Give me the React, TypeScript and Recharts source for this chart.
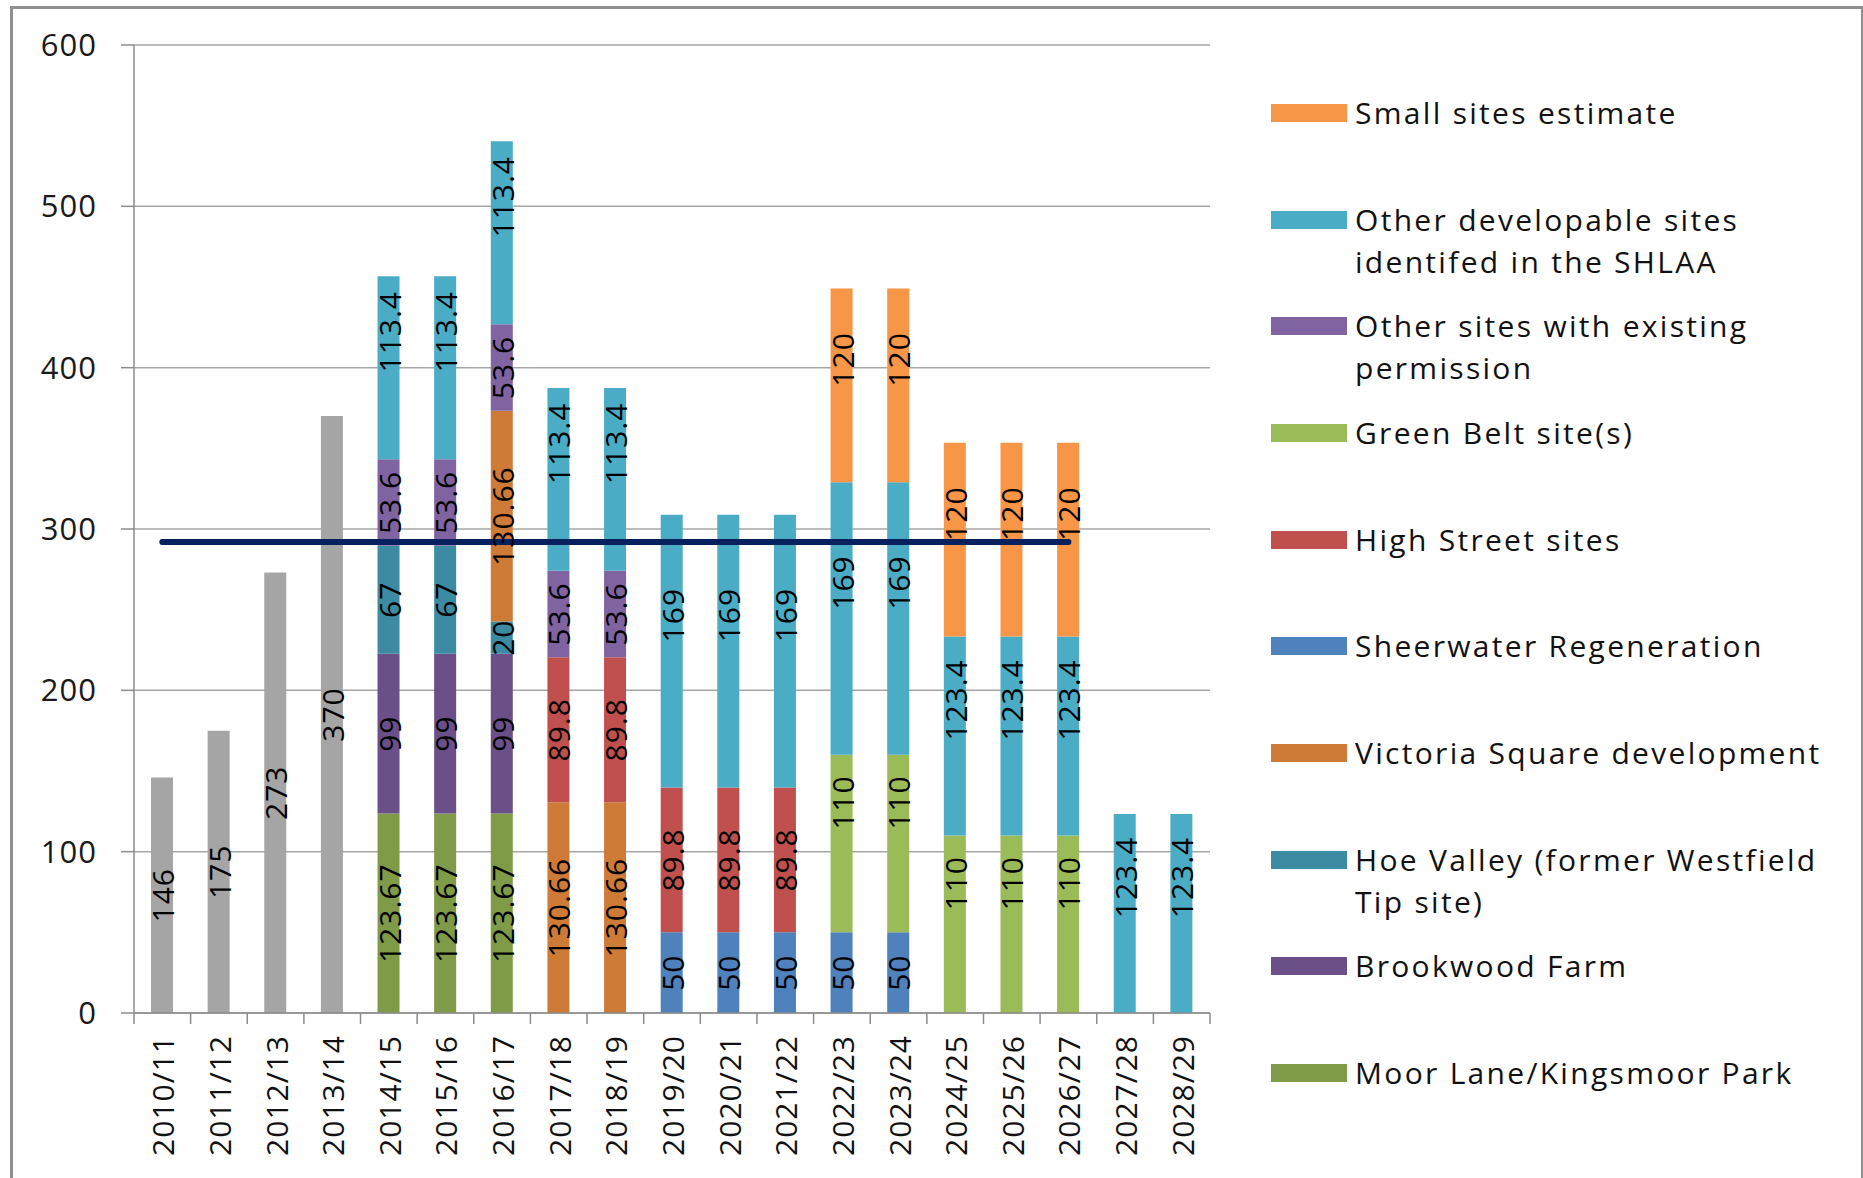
import React from "react";
import { ComposedChart, Bar, Line, XAxis, YAxis, CartesianGrid, Legend, LabelList } from "recharts";

const years = [
  "2010/11", "2011/12", "2012/13", "2013/14", "2014/15", "2015/16", "2016/17",
  "2017/18", "2018/19", "2019/20", "2020/21", "2021/22", "2022/23", "2023/24",
  "2024/25", "2025/26", "2026/27", "2027/28", "2028/29",
];

const completions = [146, 175, 273, 370, null, null, null, null, null, null, null, null, null, null, null, null, null, null, null];
const moorLane = [null, null, null, null, 123.67, 123.67, 123.67, null, null, null, null, null, null, null, null, null, null, null, null];
const brookwood = [null, null, null, null, 99, 99, 99, null, null, null, null, null, null, null, null, null, null, null, null];
const hoeValley = [null, null, null, null, 67, 67, 20, null, null, null, null, null, null, null, null, null, null, null, null];
const victoria = [null, null, null, null, null, null, 130.66, 130.66, 130.66, null, null, null, null, null, null, null, null, null, null];
const sheerwater = [null, null, null, null, null, null, null, null, null, 50, 50, 50, 50, 50, null, null, null, null, null];
const highStreet = [null, null, null, null, null, null, null, 89.8, 89.8, 89.8, 89.8, 89.8, null, null, null, null, null, null, null];
const greenBelt = [null, null, null, null, null, null, null, null, null, null, null, null, 110, 110, 110, 110, 110, null, null];
const otherPermission = [null, null, null, null, 53.6, 53.6, 53.6, 53.6, 53.6, null, null, null, null, null, null, null, null, null, null];
const otherDevelopable = [null, null, null, null, 113.4, 113.4, 113.4, 113.4, 113.4, 169, 169, 169, 169, 169, 123.4, 123.4, 123.4, 123.4, 123.4];
const smallSites = [null, null, null, null, null, null, null, null, null, null, null, null, 120, 120, 120, 120, 120, null, null];
const requirement = [292, 292, 292, 292, 292, 292, 292, 292, 292, 292, 292, 292, 292, 292, 292, 292, 292, null, null];

const yTicks = [0, 100, 200, 300, 400, 500, 600];

const data = years.map((year, i) => ({
  year,
  completions: completions[i],
  moorLane: moorLane[i],
  brookwood: brookwood[i],
  hoeValley: hoeValley[i],
  victoria: victoria[i],
  sheerwater: sheerwater[i],
  highStreet: highStreet[i],
  greenBelt: greenBelt[i],
  otherPermission: otherPermission[i],
  otherDevelopable: otherDevelopable[i],
  smallSites: smallSites[i],
  requirement: requirement[i],
}));

// stack order, bottom to top
const series = [
  { key: "completions", name: "", color: "#A5A5A5", nudge: 0, legend: false },
  { key: "moorLane", name: "Moor Lane/Kingsmoor Park", color: "#7F9B48", nudge: 0, legend: true },
  { key: "brookwood", name: "Brookwood Farm", color: "#6A4F88", nudge: 0, legend: true },
  { key: "hoeValley", name: "Hoe Valley (former Westfield Tip site)", color: "#3C8BA2", nudge: 0, legend: true },
  { key: "victoria", name: "Victoria Square development", color: "#CE7B38", nudge: 0, legend: true },
  { key: "sheerwater", name: "Sheerwater Regeneration", color: "#4F81BD", nudge: 0, legend: true },
  { key: "highStreet", name: "High Street sites", color: "#C0504D", nudge: 0, legend: true },
  { key: "greenBelt", name: "Green Belt site(s)", color: "#9BBB59", nudge: 41, legend: true },
  { key: "otherPermission", name: "Other sites with existing permission", color: "#8064A2", nudge: 0, legend: true },
  { key: "otherDevelopable", name: "Other developable sites identifed in the SHLAA", color: "#4BACC6", nudge: 36, legend: true },
  { key: "smallSites", name: "Small sites estimate", color: "#F79646", nudge: 26, legend: true },
];

const W = 1863;
const H = 1178;
const FONT = "'Open Sans', sans-serif";
const AXIS = "#8C8C8C";
const PLOT_LEFT = 134;
const PLOT_RIGHT = 1210;
const PLOT_TOP = 45;
const XAXIS_H = 165;
const PLOT_BOTTOM = H - XAXIS_H;
const BAND = (PLOT_RIGHT - PLOT_LEFT) / years.length;
const LEGEND_W = 560;

const XTick = (props: any) => {
  const { x, payload, index } = props;
  const ty = PLOT_BOTTOM + 22;
  return (
    <g>
      <line x1={x - BAND / 2} x2={x - BAND / 2} y1={PLOT_BOTTOM} y2={PLOT_BOTTOM + 11} stroke={AXIS} strokeWidth={1.5} />
      {index === years.length - 1 && (
        <line x1={x + BAND / 2} x2={x + BAND / 2} y1={PLOT_BOTTOM} y2={PLOT_BOTTOM + 11} stroke={AXIS} strokeWidth={1.5} />
      )}
      <text
        x={x}
        y={ty}
        dy="0.4em"
        transform={`rotate(-90 ${x} ${ty})`}
        textAnchor="end"
        fontSize={30}
        letterSpacing={1}
        fontFamily={FONT}
        fill="#111"
      >
        {payload.value}
      </text>
    </g>
  );
};

const makeLabel = (nudge: number) => (props: any) => {
  const { x, y, width, height, value } = props;
  if (value === null || value === undefined) return null;
  const cx = x + width / 2;
  const cy = y + height / 2 - nudge;
  return (
    <text
      x={cx}
      y={cy}
      dy="0.4em"
      transform={`rotate(-90 ${cx} ${cy})`}
      textAnchor="middle"
      fontSize={30}
      letterSpacing={1}
      fontFamily={FONT}
      fill="#000"
    >
      {value}
    </text>
  );
};

const LegendBox = () => {
  const items = series.filter((s) => s.legend).reverse();
  return (
    <div style={{ position: "relative", width: LEGEND_W, height: 1040, fontFamily: FONT }}>
      {items.map((s, i) => (
        <div key={s.key} style={{ position: "absolute", left: 0, top: i * 106.65, width: LEGEND_W }}>
          <div style={{ position: "absolute", left: 0, top: 12, width: 76, height: 18, background: s.color }} />
          <div
            style={{
              position: "absolute",
              left: 84,
              top: 0,
              width: 500,
              fontSize: 30,
              lineHeight: "42px",
              letterSpacing: 2.3,
              color: "#111",
            }}
          >
            {s.name}
          </div>
        </div>
      ))}
    </div>
  );
};

export default function App() {
  return (
    <div style={{ position: "absolute", left: 0, top: 0, width: W, height: H, overflow: "hidden", background: "#fff" }}>
      <div
        style={{
          position: "absolute",
          left: 10,
          top: 6,
          width: 1848,
          height: 1250,
          border: "3px solid #8f8f8f",
        }}
      />
      <ComposedChart
        width={W}
        height={H}
        data={data}
        margin={{ top: PLOT_TOP, right: W - PLOT_RIGHT - LEGEND_W, bottom: 0, left: 0 }}
      >
        <CartesianGrid vertical={false} stroke="#A6A6A6" strokeWidth={1.5} />
        <XAxis
          dataKey="year"
          interval={0}
          height={XAXIS_H}
          tickLine={false}
          axisLine={{ stroke: AXIS, strokeWidth: 1.5 }}
          tick={<XTick />}
        />
        <YAxis
          width={PLOT_LEFT}
          domain={[0, 600]}
          ticks={yTicks}
          interval={0}
          tickSize={13}
          tickMargin={24}
          axisLine={{ stroke: AXIS, strokeWidth: 1.5 }}
          tickLine={{ stroke: AXIS, strokeWidth: 1.5 }}
          tick={{ fontSize: 31, fill: "#1a1a1a", fontFamily: FONT, letterSpacing: 1 }}
        />
        <Legend
          layout="vertical"
          align="right"
          verticalAlign="top"
          width={LEGEND_W}
          wrapperStyle={{ left: 1271, top: 92, right: undefined }}
          content={() => <LegendBox />}
        />
        {series.map((s) => (
          <Bar key={s.key} dataKey={s.key} name={s.name} stackId="a" fill={s.color} barSize={22} isAnimationActive={false}>
            <LabelList dataKey={s.key} content={makeLabel(s.nudge)} />
          </Bar>
        ))}
        <Line
          dataKey="requirement"
          type="linear"
          stroke="#07215E"
          strokeWidth={6}
          strokeLinecap="round"
          dot={false}
          activeDot={false}
          legendType="none"
          isAnimationActive={false}
        />
      </ComposedChart>
    </div>
  );
}
